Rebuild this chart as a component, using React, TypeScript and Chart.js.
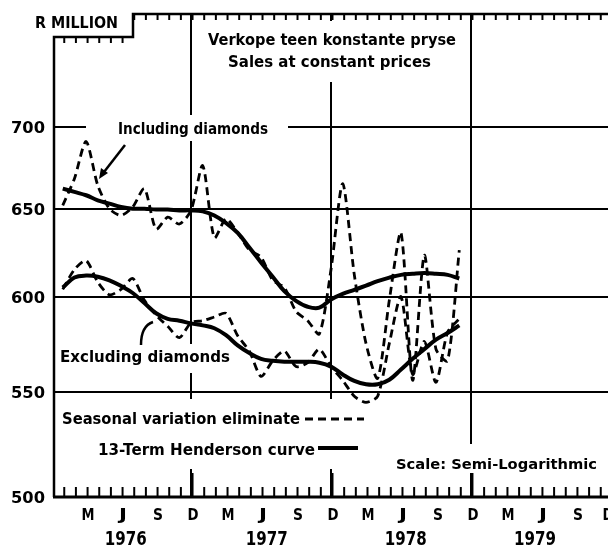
import React, { useEffect, useRef } from "react";
import { Chart, registerables } from "chart.js";

Chart.register(...registerables);

// Months of the plotted series: index 0 = Jan 1976
const months = [
  "Jan 1976", "Feb 1976", "Mar 1976", "Apr 1976", "May 1976", "Jun 1976",
  "Jul 1976", "Aug 1976", "Sep 1976", "Oct 1976", "Nov 1976", "Dec 1976",
  "Jan 1977", "Feb 1977", "Mar 1977", "Apr 1977", "May 1977", "Jun 1977",
  "Jul 1977", "Aug 1977", "Sep 1977", "Oct 1977", "Nov 1977", "Dec 1977",
  "Jan 1978", "Feb 1978", "Mar 1978", "Apr 1978", "May 1978", "Jun 1978",
  "Jul 1978", "Aug 1978", "Sep 1978", "Oct 1978", "Nov 1978",
];

// Including diamonds – seasonal variation eliminated (dashed)
const inclSeasonal = [
  652, 668, 691, 664, 650, 646, 651, 662, 638, 645, 641, 649,
  676, 633, 644, 636, 626, 622, 609, 605, 592, 587, 580, 615,
  665, 612, 575, 557, 598, 636, 556, 623, 572, 566, 626,
];
// Including diamonds – 13-term Henderson curve (solid)
const inclTrend = [
  662, 660, 658, 655, 653, 651, 650, 650, 649.5, 649.5, 649, 649,
  648.4, 646, 641.6, 635.8, 627.4, 619, 611, 603, 597.7, 594.5, 594, 598.5,
  601.5, 603.7, 606, 608.5, 610.5, 612, 612.6, 613, 612.6, 612, 610,
];
// Excluding diamonds – seasonal variation eliminated (dashed)
const exclSeasonal = [
  604, 615, 620, 608, 601, 604, 610, 598, 590, 584, 578, 586,
  587, 589, 591, 579, 571, 558, 566, 571, 563, 565, 572, 563,
  556, 548, 545, 548, 575, 600, 559, 576, 555, 581, 588,
];
// Excluding diamonds – 13-term Henderson curve (solid)
const exclTrend = [
  605, 610.5, 611.6, 611, 609, 605.8, 602, 596.5, 591, 588, 587, 585.6,
  584.5, 583, 579.3, 574, 570, 567, 566, 565.5, 565.5, 565.5, 565, 563,
  559, 555.7, 554, 554, 556.3, 561.5, 567, 572, 577, 580.5, 584.5,
];

const yTickValues = [500, 550, 600, 650, 700];
const yGridValues = [550, 600, 650, 700];
const monthLetters = ["", "", "M", "", "", "J", "", "", "S", "", "", "D"];
const decemberIndices = [11, 23, 35];
const yearLabels = ["1976", "1977", "1978", "1979"];
const yearCentres = [5.4, 17.5, 29.4, 40.5];

const FONT = '"DejaVu Sans", sans-serif';
const X_MIN = -0.75;
const X_MAX = 46.75;

function fitText(
  ctx: CanvasRenderingContext2D,
  text: string,
  x: number,
  width: number,
  baseline: number,
  size: number,
  align: "left" | "center" | "right" = "left"
) {
  ctx.save();
  ctx.font = `bold ${size}px ${FONT}`;
  const w0 = ctx.measureText(text).width;
  const s = width / w0;
  let x0 = x;
  if (align === "center") x0 = x - width / 2;
  if (align === "right") x0 = x - width;
  ctx.translate(x0, baseline);
  ctx.scale(s, 1);
  ctx.textAlign = "left";
  ctx.textBaseline = "alphabetic";
  ctx.fillStyle = "#000";
  ctx.fillText(text, 0, 0);
  ctx.restore();
}

const whiteBoxes: [number, number, number, number][] = [
  [200, 21, 262, 61],
  [86, 115, 202, 26],
  [58, 344, 176, 29],
  [57, 399, 310, 70],
  [390, 444, 216, 29],
];

const decoPlugin = {
  id: "deco",
  beforeDatasetsDraw(chart: any) {
    const ctx = chart.ctx as CanvasRenderingContext2D;
    ctx.save();
    ctx.fillStyle = "#fff";
    whiteBoxes.forEach(([x, y, w, h]) => ctx.fillRect(x, y, w, h));
    ctx.restore();
  },
  afterDatasetsDraw(chart: any) {
    const ctx = chart.ctx as CanvasRenderingContext2D;
    const { left, right, top, bottom } = chart.chartArea;
    const xs = chart.scales.x;
    const ys = chart.scales.y;
    const stepX = 133;
    const stepY = 37;

    ctx.save();
    ctx.strokeStyle = "#000";
    ctx.lineCap = "butt";

    // frame with the stepped top
    ctx.lineWidth = 2.5;
    ctx.beginPath();
    ctx.moveTo(left, bottom);
    ctx.lineTo(left, stepY);
    ctx.lineTo(stepX, stepY);
    ctx.lineTo(stepX, top);
    ctx.lineTo(right + 2, top);
    ctx.stroke();

    // bottom axis
    ctx.lineWidth = 3;
    ctx.beginPath();
    ctx.moveTo(left - 1, bottom);
    ctx.lineTo(right + 2, bottom);
    ctx.stroke();

    // month ticks
    ctx.lineWidth = 2;
    for (let m = 0; m <= 47; m++) {
      const x = xs.getPixelForValue(m) + 1.5;
      if (x < left + 3 || x > right + 3) continue;
      const isDec = m % 12 === 11;
      ctx.beginPath();
      ctx.moveTo(x, bottom);
      ctx.lineTo(x, bottom - (isDec ? 24 : 10));
      ctx.stroke();
      const ty = x < stepX ? stepY : top;
      ctx.beginPath();
      ctx.moveTo(x, ty);
      ctx.lineTo(x, ty + 6);
      ctx.stroke();
    }

    // y labels
    yTickValues.forEach((v) => {
      const y = ys.getPixelForValue(v);
      fitText(ctx, String(v), 45, 34, y + 6, 15, "right");
    });

    // month letters
    for (let m = 0; m <= 47; m++) {
      const letter = monthLetters[m % 12];
      if (!letter) continue;
      const x = xs.getPixelForValue(m) + (m === 47 ? -3 : 2);
      const w = letter === "M" ? 13 : letter === "J" ? 8 : letter === "S" ? 10 : 11;
      fitText(ctx, letter, x, w, 520, 15, "center");
    }

    // years
    yearLabels.forEach((yr, i) => {
      const x = xs.getPixelForValue(yearCentres[i]);
      fitText(ctx, yr, x, 42, 545, 19, "center");
    });

    // texts
    fitText(ctx, "R MILLION", 35, 83, 28, 16);
    fitText(ctx, "Verkope teen konstante pryse", 208, 248, 45, 16);
    fitText(ctx, "Sales at constant prices", 228, 203, 67, 16);
    fitText(ctx, "Including diamonds", 118, 150, 134, 15);
    fitText(ctx, "Excluding diamonds", 60, 170, 362, 16);
    fitText(ctx, "Seasonal variation eliminate", 62, 238, 424, 15);
    fitText(ctx, "13-Term Henderson curve", 98, 217, 455, 16);
    fitText(ctx, "Scale: Semi-Logarithmic", 396, 201, 469, 14);

    // legend samples
    ctx.lineWidth = 2.8;
    ctx.setLineDash([8, 5]);
    ctx.beginPath();
    ctx.moveTo(305, 419);
    ctx.lineTo(364, 419);
    ctx.stroke();
    ctx.setLineDash([]);
    ctx.lineWidth = 4;
    ctx.beginPath();
    ctx.moveTo(318, 448);
    ctx.lineTo(358, 448);
    ctx.stroke();

    // leader arrow for "Including diamonds"
    ctx.lineWidth = 2.5;
    ctx.beginPath();
    ctx.moveTo(125, 145);
    ctx.lineTo(104, 172);
    ctx.stroke();
    ctx.fillStyle = "#000";
    ctx.beginPath();
    ctx.moveTo(99, 179);
    ctx.lineTo(101, 168);
    ctx.lineTo(108, 173);
    ctx.closePath();
    ctx.fill();

    // leader hook for "Excluding diamonds"
    ctx.beginPath();
    ctx.moveTo(141, 345);
    ctx.quadraticCurveTo(141, 326, 153, 322);
    ctx.stroke();

    ctx.restore();
  },
};

function toPoints(values: number[]) {
  return values.map((v, i) => ({ x: i, y: v }));
}

export default function App() {
  const canvasRef = useRef<HTMLCanvasElement | null>(null);

  useEffect(() => {
    if (!canvasRef.current) return;
    const chart = new Chart(canvasRef.current, {
      type: "line",
      data: {
        labels: months,
        datasets: [
          {
            label: "Including diamonds (seasonally adjusted)",
            data: toPoints(inclSeasonal),
            borderColor: "#000",
            borderWidth: 2.8,
            borderDash: [8, 5],
            pointRadius: 0,
            tension: 0.25,
            fill: false,
          },
          {
            label: "Including diamonds (Henderson)",
            data: toPoints(inclTrend),
            borderColor: "#000",
            borderWidth: 4,
            pointRadius: 0,
            tension: 0.4,
            fill: false,
          },
          {
            label: "Excluding diamonds (seasonally adjusted)",
            data: toPoints(exclSeasonal),
            borderColor: "#000",
            borderWidth: 2.8,
            borderDash: [8, 5],
            pointRadius: 0,
            tension: 0.25,
            fill: false,
          },
          {
            label: "Excluding diamonds (Henderson)",
            data: toPoints(exclTrend),
            borderColor: "#000",
            borderWidth: 4,
            pointRadius: 0,
            tension: 0.4,
            fill: false,
          },
        ],
      },
      options: {
        animation: false,
        responsive: false,
        devicePixelRatio: 1,
        events: [],
        layout: { padding: { left: 54, top: 14, right: 0, bottom: 49 } },
        plugins: { legend: { display: false }, tooltip: { enabled: false } },
        scales: {
          x: {
            type: "linear",
            min: X_MIN,
            max: X_MAX,
            ticks: { display: false },
            border: { display: false },
            grid: { color: "#000", lineWidth: 2, drawTicks: false },
            afterBuildTicks: (scale: any) => {
              scale.ticks = decemberIndices.map((v) => ({ value: v }));
            },
          },
          y: {
            type: "logarithmic",
            min: 500,
            max: 776,
            ticks: { display: false },
            border: { display: false },
            grid: { color: "#000", lineWidth: 2, drawTicks: false },
            afterBuildTicks: (scale: any) => {
              scale.ticks = yGridValues.map((v) => ({ value: v }));
            },
          },
        },
      },
      plugins: [decoPlugin],
    });
    return () => chart.destroy();
  }, []);

  return (
    <div style={{ position: "absolute", left: 0, top: 0, width: 608, height: 546, background: "#fff" }}>
      <canvas ref={canvasRef} width={608} height={546} style={{ display: "block" }} />
    </div>
  );
}
